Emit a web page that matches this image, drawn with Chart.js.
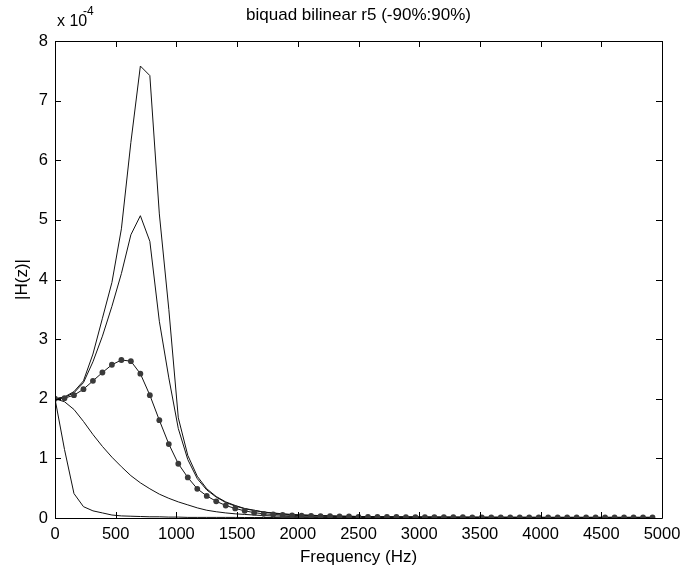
<!DOCTYPE html>
<html>
<head>
<meta charset="utf-8">
<title>biquad bilinear r5</title>
<script src="https://cdn.jsdelivr.net/npm/chart.js@4.4.0/dist/chart.umd.min.js"></script>
<style>
    html, body { margin: 0; padding: 0; background: #ffffff; }
    #wrap { width: 682px; height: 572px; }
</style>
</head>
<body>
<div id="wrap"><canvas id="magChart" width="682" height="572"></canvas></div>
<script>
// frequency grid (Hz), 64 bins up to fs/2
const freqHz = [
    0, 78.125, 156.25, 234.375, 312.5, 390.625, 468.75, 546.875, 625, 703.125,
    781.25, 859.375, 937.5, 1015.625, 1093.75, 1171.875, 1250, 1328.125, 1406.25, 1484.375,
    1562.5, 1640.625, 1718.75, 1796.875, 1875, 1953.125, 2031.25, 2109.375, 2187.5, 2265.625,
    2343.75, 2421.875, 2500, 2578.125, 2656.25, 2734.375, 2812.5, 2890.625, 2968.75, 3046.875,
    3125, 3203.125, 3281.25, 3359.375, 3437.5, 3515.625, 3593.75, 3671.875, 3750, 3828.125,
    3906.25, 3984.375, 4062.5, 4140.625, 4218.75, 4296.875, 4375, 4453.125, 4531.25, 4609.375,
    4687.5, 4765.625, 4843.75, 4921.875
];

// |H(z)| in units of 1e-4, one array per r value
const magNominal = [
    2.00, 2.01, 2.06, 2.16, 2.30, 2.44, 2.57, 2.65, 2.63, 2.42,
    2.06, 1.64, 1.24, 0.91, 0.68, 0.49, 0.37, 0.28, 0.21, 0.16,
    0.12, 0.09, 0.07, 0.06, 0.05, 0.045, 0.04, 0.035, 0.03, 0.03,
    0.025, 0.025, 0.02, 0.02, 0.02, 0.018, 0.017, 0.016, 0.015, 0.015,
    0.014, 0.014, 0.013, 0.013, 0.012, 0.012, 0.012, 0.011, 0.011, 0.011,
    0.011, 0.01, 0.01, 0.01, 0.01, 0.01, 0.01, 0.01, 0.01, 0.01,
    0.01, 0.01, 0.01, 0.01
];
const magHigh = [
    2.00, 2.03, 2.12, 2.30, 2.75, 3.35, 3.95, 4.85, 6.30, 7.58,
    7.42, 5.10, 3.50, 1.68, 1.05, 0.70, 0.49, 0.36, 0.27, 0.21,
    0.16, 0.13, 0.10, 0.085, 0.07, 0.06, 0.05, 0.045, 0.04, 0.035,
    0.03, 0.03, 0.025, 0.025, 0.02, 0.02, 0.02, 0.018, 0.017, 0.016,
    0.015, 0.015, 0.014, 0.014, 0.013, 0.013, 0.012, 0.012, 0.012, 0.011,
    0.011, 0.011, 0.01, 0.01, 0.01, 0.01, 0.01, 0.01, 0.01, 0.01,
    0.01, 0.01, 0.01, 0.01
];
const magMid = [
    2.00, 2.02, 2.10, 2.27, 2.62, 3.05, 3.55, 4.10, 4.75, 5.07,
    4.64, 3.30, 2.35, 1.50, 0.98, 0.66, 0.47, 0.35, 0.26, 0.20,
    0.155, 0.125, 0.10, 0.08, 0.065, 0.055, 0.05, 0.045, 0.04, 0.035,
    0.03, 0.028, 0.025, 0.022, 0.02, 0.019, 0.018, 0.017, 0.016, 0.015,
    0.015, 0.014, 0.014, 0.013, 0.013, 0.012, 0.012, 0.012, 0.011, 0.011,
    0.011, 0.01, 0.01, 0.01, 0.01, 0.01, 0.01, 0.01, 0.01, 0.01,
    0.01, 0.01, 0.01, 0.01
];
const magLow = [
    2.00, 1.95, 1.82, 1.62, 1.40, 1.20, 1.02, 0.86, 0.71, 0.59,
    0.49, 0.40, 0.33, 0.27, 0.22, 0.17, 0.13, 0.105, 0.085, 0.07,
    0.06, 0.05, 0.04, 0.035, 0.03, 0.025, 0.02, 0.02, 0.015, 0.015,
    0.012, 0.012, 0.01, 0.01, 0.01, 0.01, 0.01, 0.01, 0.01, 0.01,
    0.008, 0.008, 0.008, 0.008, 0.008, 0.008, 0.008, 0.008, 0.008, 0.008,
    0.008, 0.008, 0.008, 0.008, 0.008, 0.008, 0.008, 0.008, 0.008, 0.008,
    0.008, 0.008, 0.008, 0.008
];
const magLowest = [
    2.00, 1.15, 0.41, 0.19, 0.12, 0.085, 0.05, 0.035, 0.03, 0.025,
    0.02, 0.02, 0.015, 0.015, 0.01, 0.01, 0.01, 0.01, 0.01, 0.01,
    0.008, 0.008, 0.008, 0.008, 0.006, 0.006, 0.006, 0.006, 0.006, 0.006,
    0.005, 0.005, 0.005, 0.005, 0.005, 0.005, 0.005, 0.005, 0.005, 0.005,
    0.005, 0.005, 0.005, 0.005, 0.005, 0.005, 0.005, 0.005, 0.005, 0.005,
    0.005, 0.005, 0.005, 0.005, 0.005, 0.005, 0.005, 0.005, 0.005, 0.005,
    0.005, 0.005, 0.005, 0.005
];

const xTicks = [0, 500, 1000, 1500, 2000, 2500, 3000, 3500, 4000, 4500, 5000];
const yTicks = [0, 1, 2, 3, 4, 5, 6, 7, 8];

const titleText = 'biquad bilinear r5 (-90%:90%)';
const xLabel = 'Frequency (Hz)';
const yLabel = '|H(z)|';

const FONT = '"Liberation Sans", Arial, Helvetica, sans-serif';

function toPoints(arr) {
    return freqHz.map(function(f, i) { return { x: f, y: arr[i] }; });
}

function lineSet(arr, withDots) {
    return {
        data: toPoints(arr),
        borderColor: '#111111',
        borderWidth: 1,
        pointRadius: withDots ? 2.9 : 0,
        pointBackgroundColor: '#3a3a3a',
        pointBorderColor: '#3a3a3a',
        pointBorderWidth: 0,
        tension: 0,
        fill: false
    };
}

// box, inward ticks on all four sides and the loose texts
const matlabAxes = {
    id: 'matlabAxes',
    afterDraw: function(chart) {
        const ctx = chart.ctx;
        const a = chart.chartArea;
        const xs = chart.scales.x;
        const ys = chart.scales.y;
        const tl = 6;

        ctx.save();
        ctx.strokeStyle = '#000000';
        ctx.lineWidth = 1;
        ctx.beginPath();
        ctx.rect(Math.round(a.left) + 0.5, Math.round(a.top) + 0.5,
                 Math.round(a.right - a.left), Math.round(a.bottom - a.top));
        ctx.stroke();

        ctx.beginPath();
        xTicks.forEach(function(v) {
            const px = Math.round(xs.getPixelForValue(v)) + 0.5;
            ctx.moveTo(px, a.bottom);
            ctx.lineTo(px, a.bottom - tl);
            ctx.moveTo(px, a.top);
            ctx.lineTo(px, a.top + tl);
        });
        yTicks.forEach(function(v) {
            const py = Math.round(ys.getPixelForValue(v)) + 0.5;
            ctx.moveTo(a.left, py);
            ctx.lineTo(a.left + tl, py);
            ctx.moveTo(a.right, py);
            ctx.lineTo(a.right - tl, py);
        });
        ctx.stroke();

        ctx.fillStyle = '#000000';
        ctx.textAlign = 'center';
        ctx.textBaseline = 'middle';
        ctx.font = '17px ' + FONT;
        ctx.fillText(titleText, (a.left + a.right) / 2, 15);
        ctx.fillText(xLabel, (a.left + a.right) / 2, 557);

        ctx.save();
        ctx.translate(22, (a.top + a.bottom) / 2);
        ctx.rotate(-Math.PI / 2);
        ctx.fillText(yLabel, 0, 0);
        ctx.restore();

        // exponent marker
        ctx.textAlign = 'left';
        ctx.font = '16px ' + FONT;
        ctx.fillText('x 10', 57, 22);
        ctx.font = '12px ' + FONT;
        ctx.fillText('-4', 83, 12);
        ctx.restore();
    }
};

window.addEventListener('load', function() {
    if (typeof Chart === 'undefined') {
        console.error('Chart.js not loaded');
        return;
    }
    const canvas = document.getElementById('magChart');

    new Chart(canvas.getContext('2d'), {
        type: 'line',
        data: {
            datasets: [
                lineSet(magNominal, true),
                lineSet(magHigh, false),
                lineSet(magMid, false),
                lineSet(magLow, false),
                lineSet(magLowest, false)
            ]
        },
        options: {
            responsive: false,
            animation: false,
            layout: {
                padding: { left: 0, top: 41, right: 20, bottom: 0 }
            },
            plugins: {
                legend: { display: false },
                title: { display: false },
                tooltip: { enabled: false }
            },
            scales: {
                x: {
                    type: 'linear',
                    min: 0,
                    max: 5000,
                    afterFit: function(scale) {
                        scale.height = 54;
                        scale.paddingLeft = 0;
                        scale.paddingRight = 0;
                    },
                    afterBuildTicks: function(scale) {
                        scale.ticks = xTicks.map(function(v) { return { value: v }; });
                    },
                    ticks: {
                        autoSkip: false,
                        maxRotation: 0,
                        padding: 7,
                        color: '#000000',
                        font: { family: FONT, size: 16.5 },
                        callback: function(v) { return String(v); }
                    },
                    grid: { display: false, drawTicks: false },
                    border: { display: false }
                },
                y: {
                    type: 'linear',
                    min: 0,
                    max: 8,
                    afterFit: function(scale) {
                        scale.width = 55;
                        scale.paddingTop = 0;
                        scale.paddingBottom = 0;
                    },
                    afterBuildTicks: function(scale) {
                        scale.ticks = yTicks.map(function(v) { return { value: v }; });
                    },
                    ticks: {
                        padding: 7,
                        color: '#000000',
                        font: { family: FONT, size: 16.5 },
                        callback: function(v) { return String(v); }
                    },
                    grid: { display: false, drawTicks: false },
                    border: { display: false }
                }
            }
        },
        plugins: [matlabAxes]
    });
});
</script>
</body>
</html>
